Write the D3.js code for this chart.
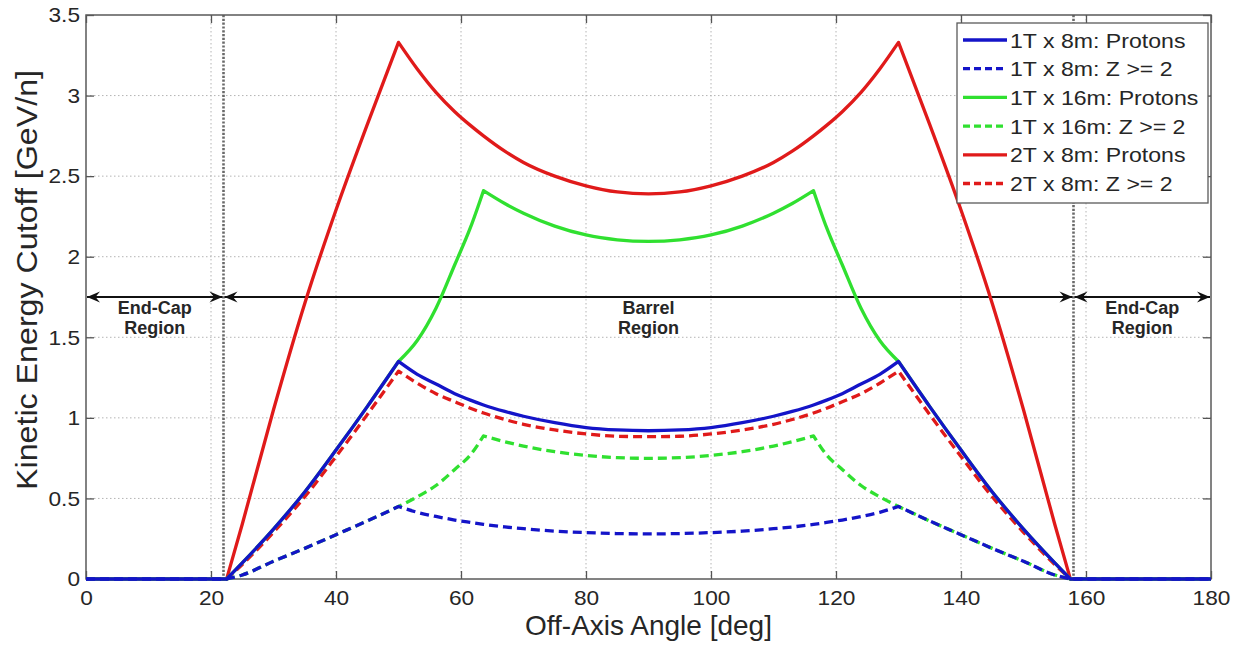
<!DOCTYPE html>
<html><head><meta charset="utf-8">
<script src="https://cdn.jsdelivr.net/npm/d3@7"></script>
<style>
body{margin:0;background:#fff}
svg{display:block}
text{font-family:"Liberation Sans",Arial,Helvetica,sans-serif;fill:#262626}
</style>
</head><body>
<svg id="chart" width="1243" height="651"></svg>
<script>
// ---------- data ----------
const angles = [0, 22.5, 25, 30, 35, 40, 45, 50, 53, 56, 59, 61.5, 63.6, 67, 70, 75, 80, 85, 90,
                95, 100, 105, 110, 113, 116.4, 118.5, 121, 124, 127, 130, 135, 140, 145, 150, 155, 157.5, 180];

const oneT8mProtons = [0, 0, 0.10, 0.31, 0.54, 0.80, 1.07, 1.35, 1.27, 1.21, 1.15, 1.11, 1.08, 1.04, 1.01, 0.97, 0.94, 0.925, 0.92,
                       0.925, 0.94, 0.97, 1.01, 1.04, 1.08, 1.11, 1.15, 1.21, 1.27, 1.35, 1.07, 0.80, 0.54, 0.31, 0.10, 0, 0];
const oneT8mZ2      = [0, 0, 0.025, 0.11, 0.19, 0.275, 0.36, 0.45, 0.414, 0.388, 0.366, 0.351, 0.339, 0.323, 0.312, 0.297, 0.288, 0.282, 0.28,
                       0.282, 0.288, 0.297, 0.312, 0.323, 0.339, 0.351, 0.366, 0.388, 0.414, 0.45, 0.36, 0.275, 0.19, 0.11, 0.025, 0, 0];
const oneT16mProtons = [0, 0, 0.10, 0.31, 0.54, 0.80, 1.07, 1.35, 1.48, 1.68, 1.95, 2.18, 2.41, 2.33, 2.27, 2.19, 2.135, 2.105, 2.095,
                        2.105, 2.135, 2.19, 2.27, 2.33, 2.41, 2.18, 1.95, 1.68, 1.48, 1.35, 1.07, 0.80, 0.54, 0.31, 0.10, 0, 0];
const oneT16mZ2     = [0, 0, 0.025, 0.11, 0.19, 0.275, 0.36, 0.45, 0.51, 0.58, 0.68, 0.77, 0.888, 0.852, 0.825, 0.79, 0.767, 0.753, 0.749,
                       0.753, 0.767, 0.79, 0.825, 0.852, 0.888, 0.77, 0.68, 0.58, 0.51, 0.45, 0.36, 0.275, 0.19, 0.11, 0.025, 0, 0];
const twoT8mProtons = [0, 0, 0.34, 1.05, 1.71, 2.29, 2.82, 3.33, 3.165, 3.02, 2.90, 2.815, 2.75, 2.655, 2.585, 2.50, 2.44, 2.402, 2.39,
                       2.402, 2.44, 2.50, 2.585, 2.655, 2.75, 2.815, 2.90, 3.02, 3.165, 3.33, 2.82, 2.29, 1.71, 1.05, 0.34, 0, 0];
const twoT8mZ2      = [0, 0, 0.09, 0.29, 0.51, 0.76, 1.02, 1.29, 1.215, 1.15, 1.10, 1.06, 1.03, 0.99, 0.96, 0.925, 0.90, 0.886, 0.883,
                       0.886, 0.90, 0.925, 0.96, 0.99, 1.03, 1.06, 1.10, 1.15, 1.215, 1.29, 1.02, 0.76, 0.51, 0.29, 0.09, 0, 0];

// angles where a curve has a corner (peaks and cutoff onsets)
const kinksNarrow = [0, 22.5, 50, 130, 157.5, 180];
const kinksWide   = [0, 22.5, 50, 63.6, 116.4, 130, 157.5, 180];

const seriesNames = ["1T x 8m: Protons", "1T x 8m: Z >= 2", "1T x 16m: Protons", "1T x 16m: Z >= 2", "2T x 8m: Protons", "2T x 8m: Z >= 2"];
const seriesValues = [oneT8mProtons, oneT8mZ2, oneT16mProtons, oneT16mZ2, twoT8mProtons, twoT8mZ2];
const seriesKinks = [kinksNarrow, kinksNarrow, kinksWide, kinksWide, kinksNarrow, kinksNarrow];
const seriesColors = ["#1414c8", "#1414c8", "#30e030", "#30e030", "#e01a1a", "#e01a1a"];
const seriesDashed = [false, true, false, true, false, true];

const xTicks = [0, 20, 40, 60, 80, 100, 120, 140, 160, 180];
const yTicks = [0, 0.5, 1, 1.5, 2, 2.5, 3, 3.5];
const yTickLabels = ["0", "0.5", "1", "1.5", "2", "2.5", "3", "3.5"];

const regionBounds = [0, 22, 158, 180];
const regionLabels = [["End-Cap", "Region"], ["Barrel", "Region"], ["End-Cap", "Region"]];
const arrowLevel = 1.75;

const xLabel = "Off-Axis Angle [deg]";
const yLabel = "Kinetic Energy Cutoff [GeV/n]";

// ---------- drawing ----------
const svg = d3.select("#chart");
const L = 86, R = 1211, T = 15, B = 579;
const x = d3.scaleLinear().domain([0, 180]).range([L, R]);
const y = d3.scaleLinear().domain([0, 3.5]).range([B, T]);

function stretch(sel, f) {
  sel.each(function () {
    const w = this.getComputedTextLength();
    d3.select(this).attr("textLength", w * f).attr("lengthAdjust", "spacingAndGlyphs");
  });
}

svg.append("rect").attr("width", 1243).attr("height", 651).attr("fill", "#fff");

const defs = svg.append("defs");
defs.append("marker").attr("id", "arr").attr("viewBox", "-14 -7 16 14")
  .attr("refX", 0).attr("refY", 0).attr("markerWidth", 16).attr("markerHeight", 14)
  .attr("markerUnits", "userSpaceOnUse").attr("orient", "auto-start-reverse")
  .append("path").attr("d", "M0,0 L-13,-5.5 L-8.5,0 L-13,5.5 Z").attr("fill", "#111");

// grid
const grid = svg.append("g").attr("stroke", "#b4b4b4").attr("stroke-width", 1).attr("stroke-dasharray", "1.5,2.5");
grid.selectAll("line.gx").data(xTicks.slice(1, -1)).join("line")
  .attr("x1", d => x(d)).attr("x2", d => x(d)).attr("y1", T).attr("y2", B);
grid.selectAll("line.gy").data(yTicks.slice(1, -1)).join("line")
  .attr("y1", d => y(d)).attr("y2", d => y(d)).attr("x1", L).attr("x2", R);

// region boundaries (heavy dotted)
svg.append("g").selectAll("line").data(regionBounds.slice(1, -1)).join("line")
  .attr("x1", d => x(d)).attr("x2", d => x(d)).attr("y1", T).attr("y2", B)
  .attr("stroke", "#6a6a6a").attr("stroke-width", 2.6).attr("stroke-dasharray", "2.2,1.6");

// axes with inward ticks
const fmtY = d => yTickLabels[yTicks.indexOf(d)];
const gx = svg.append("g").attr("transform", `translate(0,${B})`)
  .call(d3.axisBottom(x).tickValues(xTicks).tickSize(-8).tickPadding(11));
const gy = svg.append("g").attr("transform", `translate(${L},0)`)
  .call(d3.axisLeft(y).tickValues(yTicks).tickFormat(fmtY).tickSize(-8).tickPadding(6));
const gt = svg.append("g").attr("transform", `translate(0,${T})`)
  .call(d3.axisTop(x).tickValues(xTicks).tickSize(-8).tickFormat(""));
const gr = svg.append("g").attr("transform", `translate(${R},0)`)
  .call(d3.axisRight(y).tickValues(yTicks).tickSize(-8).tickFormat(""));
[gx, gy, gt, gr].forEach(g => {
  g.select(".domain").remove();
  g.selectAll(".tick line").attr("stroke", "#555").attr("stroke-width", 1.3);
  g.selectAll(".tick text").attr("font-size", 21).attr("fill", "#262626")
    .attr("font-family", '"Liberation Sans",Arial,sans-serif');
});
stretch(gx.selectAll(".tick text"), 1.08);
stretch(gy.selectAll(".tick text"), 1.08);
svg.append("rect").attr("x", L).attr("y", T).attr("width", R - L).attr("height", B - T)
  .attr("fill", "none").attr("stroke", "#5a5a5a").attr("stroke-width", 1.5);

// region arrows
const arrows = svg.append("g");
for (let i = 0; i < regionBounds.length - 1; i++) {
  arrows.append("line")
    .attr("x1", x(regionBounds[i]) + 1).attr("x2", x(regionBounds[i + 1]) - 1)
    .attr("y1", y(arrowLevel)).attr("y2", y(arrowLevel))
    .attr("stroke", "#111").attr("stroke-width", 1.8)
    .attr("marker-start", "url(#arr)").attr("marker-end", "url(#arr)");
  const cx = x((regionBounds[i] + regionBounds[i + 1]) / 2);
  regionLabels[i].forEach((t, k) => {
    arrows.append("text").attr("x", cx).attr("y", y(arrowLevel) + 17 + k * 20)
      .attr("text-anchor", "middle").attr("font-size", 18).attr("font-weight", "bold")
      .attr("fill", "#1a1a1a").text(t);
  });
}

// series lines: smooth between corners, sharp at corners
function seriesPath(vals, kinks) {
  const gen = d3.line().x(d => x(d[0])).y(d => y(d[1])).curve(d3.curveMonotoneX);
  let out = "";
  for (let k = 0; k < kinks.length - 1; k++) {
    const pts = angles.map((a, i) => [a, vals[i]]).filter(p => p[0] >= kinks[k] && p[0] <= kinks[k + 1]);
    let s = gen(pts);
    if (k > 0) s = "L" + s.slice(1);
    out += s;
  }
  return out;
}
const order = [5, 4, 3, 2, 1, 0];
const lines = svg.append("g").attr("fill", "none");
order.forEach(s => {
  lines.append("path").attr("d", seriesPath(seriesValues[s], seriesKinks[s]))
    .attr("stroke", seriesColors[s]).attr("stroke-width", 3.3)
    .attr("stroke-linejoin", "round")
    .attr("stroke-dasharray", seriesDashed[s] ? "9,5" : null);
});

// legend
const lg = svg.append("g");
lg.append("rect").attr("x", 957).attr("y", 23).attr("width", 251).attr("height", 180)
  .attr("fill", "#fff").attr("stroke", "#5a5a5a").attr("stroke-width", 1.3);
seriesNames.forEach((n, i) => {
  const yy = 40 + i * 28.7;
  lg.append("line").attr("x1", 963).attr("x2", 1007).attr("y1", yy).attr("y2", yy)
    .attr("stroke", seriesColors[i]).attr("stroke-width", 3.3)
    .attr("stroke-dasharray", seriesDashed[i] ? "7,4" : null);
  lg.append("text").attr("x", 1010).attr("y", yy + 7.5).attr("font-size", 21).text(n);
});
stretch(lg.selectAll("text"), 1.1);

// axis titles
svg.append("text").attr("x", (L + R) / 2).attr("y", 635).attr("text-anchor", "middle")
  .attr("font-size", 28).text(xLabel);
const yl = svg.append("text").attr("transform", `translate(37,280) rotate(-90)`)
  .attr("text-anchor", "middle").attr("font-size", 29).text(yLabel);
yl.attr("textLength", 420).attr("lengthAdjust", "spacingAndGlyphs");
</script>
</body></html>
